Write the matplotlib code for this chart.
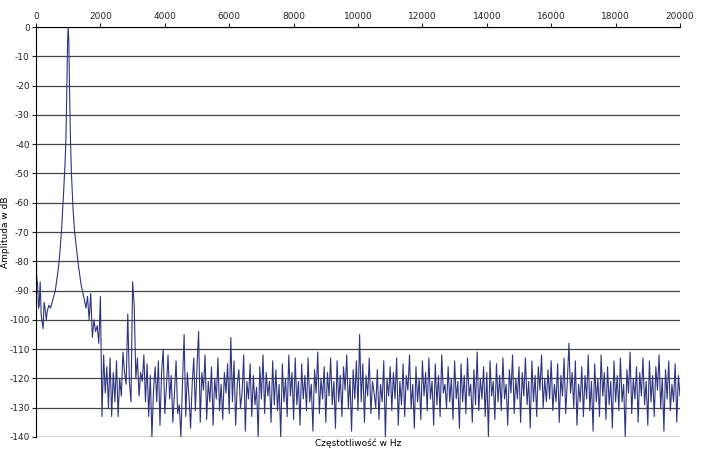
import matplotlib
matplotlib.use("Agg")
import matplotlib.pyplot as plt
import numpy as np

plt.rcParams["axes.unicode_minus"] = False

low_freq = [0, 20, 50, 80, 100, 130, 160, 180, 220, 250, 280, 320, 350, 400, 450, 500, 550, 600, 650, 700, 750,
            800, 850, 900, 930, 960, 980, 1000, 1020, 1040, 1070, 1100, 1150, 1200, 1300, 1400, 1500, 1550,
            1600, 1650, 1700, 1750, 1800, 1850, 1900, 1950]
low_db = [-58, -85, -88, -96, -95, -87, -98, -100, -103, -94, -96, -100, -97, -95, -96, -94, -92, -90, -86, -82, -76,
          -68, -58, -47, -38, -20, -5, 0, -5, -20, -38, -50, -62, -70, -80, -88, -93, -96,
          -92, -100, -91, -106, -100, -104, -102, -108]

# noise floor, 2000 .. 20000 Hz in 50 Hz steps (one row = 1000 Hz)
noise_db = [
 -92, -133, -112, -125, -116, -130, -113, -133, -118, -128, -114, -133, -120, -126, -111, -118, -122, -98, -121, -128,
 -87, -95, -120, -113, -126, -118, -121, -112, -128, -115, -133, -119, -140, -124, -116, -128, -114, -136, -118, -110,
 -132, -123, -112, -127, -119, -135, -125, -114, -132, -129, -140, -121, -105, -133, -118, -126, -137, -122, -113, -131,
 -116, -104, -135, -118, -124, -112, -134, -121, -128, -116, -136, -120, -127, -113, -131, -122, -134, -118, -125, -115,
 -132, -106, -128, -114, -136, -122, -117, -130, -125, -112, -138, -121, -127, -115, -133, -119, -129, -123, -140, -116,
 -127, -112, -132, -118, -126, -121, -135, -114, -129, -117, -131, -122, -140, -115, -128, -120, -133, -112, -126, -118,
 -134, -113, -129, -121, -136, -115, -127, -119, -131, -113, -128, -122, -138, -117, -125, -111, -132, -120, -127, -116,
 -135, -118, -126, -113, -129, -121, -137, -114, -128, -119, -133, -116, -124, -112, -130, -120, -138, -117, -127, -114,
 -131, -105, -128, -115, -135, -119, -126, -113, -132, -121, -125, -130, -117, -134, -122, -128, -114, -140, -120, -126,
 -116, -131, -118, -127, -113, -136, -121, -129, -115, -133, -119, -124, -112, -130, -122, -137, -116, -128, -120, -134,
 -114, -126, -118, -131, -113, -127, -121, -136, -115, -129, -119, -133, -112, -125, -122, -130, -116, -128, -120, -134,
 -114, -127, -121, -137, -115, -128, -119, -132, -113, -126, -122, -135, -117, -129, -111, -131, -120, -127, -116, -133,
 -118, -140, -114, -126, -121, -134, -115, -128, -119, -131, -113, -127, -122, -136, -117, -125, -112, -132, -120, -127,
 -116, -135, -118, -126, -113, -129, -121, -137, -114, -128, -119, -133, -116, -124, -112, -130, -120, -128, -117, -127,
 -114, -131, -122, -128, -115, -135, -119, -126, -113, -132, -121, -108, -125, -118, -130, -114, -136, -122, -128, -116,
 -133, -119, -127, -112, -131, -121, -138, -115, -128, -120, -133, -112, -126, -118, -134, -116, -129, -121, -137, -114,
 -128, -119, -131, -113, -128, -122, -140, -117, -125, -111, -132, -120, -127, -116, -135, -118, -126, -113, -129, -121,
 -136, -114, -128, -119, -133, -116, -124, -112, -130, -120, -138, -117, -127, -114, -131, -122, -128, -115, -135, -119,
 -126, -124]
noise_freq = list(np.arange(len(noise_db)) * 50 + 2000)

freq = low_freq + noise_freq
db = low_db + noise_db

fig = plt.figure(figsize=(7.05, 4.51), dpi=100)
ax = fig.add_axes([36/705, 1 - 437/451, 644/705, 410/451])
ax.plot(freq, db, color="#2e3580", lw=0.8)
ax.set_xlim(0, 20000)
ax.set_ylim(-140, 0)
ax.set_xticks(range(0, 20001, 2000))
ax.set_yticks(range(-140, 1, 10))
ax.xaxis.tick_top()
ax.tick_params(labelsize=6.5, length=3, pad=1.5, colors="#222222")
ax.yaxis.grid(True, color="#444444", lw=0.9)
for s in ["right", "bottom"]:
    ax.spines[s].set_visible(False)
ax.axhline(-140, color="#444444", lw=0.9)
ax.set_xlabel("Częstotliwość w Hz", fontsize=6.5, labelpad=1)
ax.xaxis.set_label_position("bottom")
ax.set_ylabel("Amplituda w dB", fontsize=6.5)
ax.yaxis.set_label_coords(-0.04, 0.5)
fig.savefig("out.png", dpi=100)
